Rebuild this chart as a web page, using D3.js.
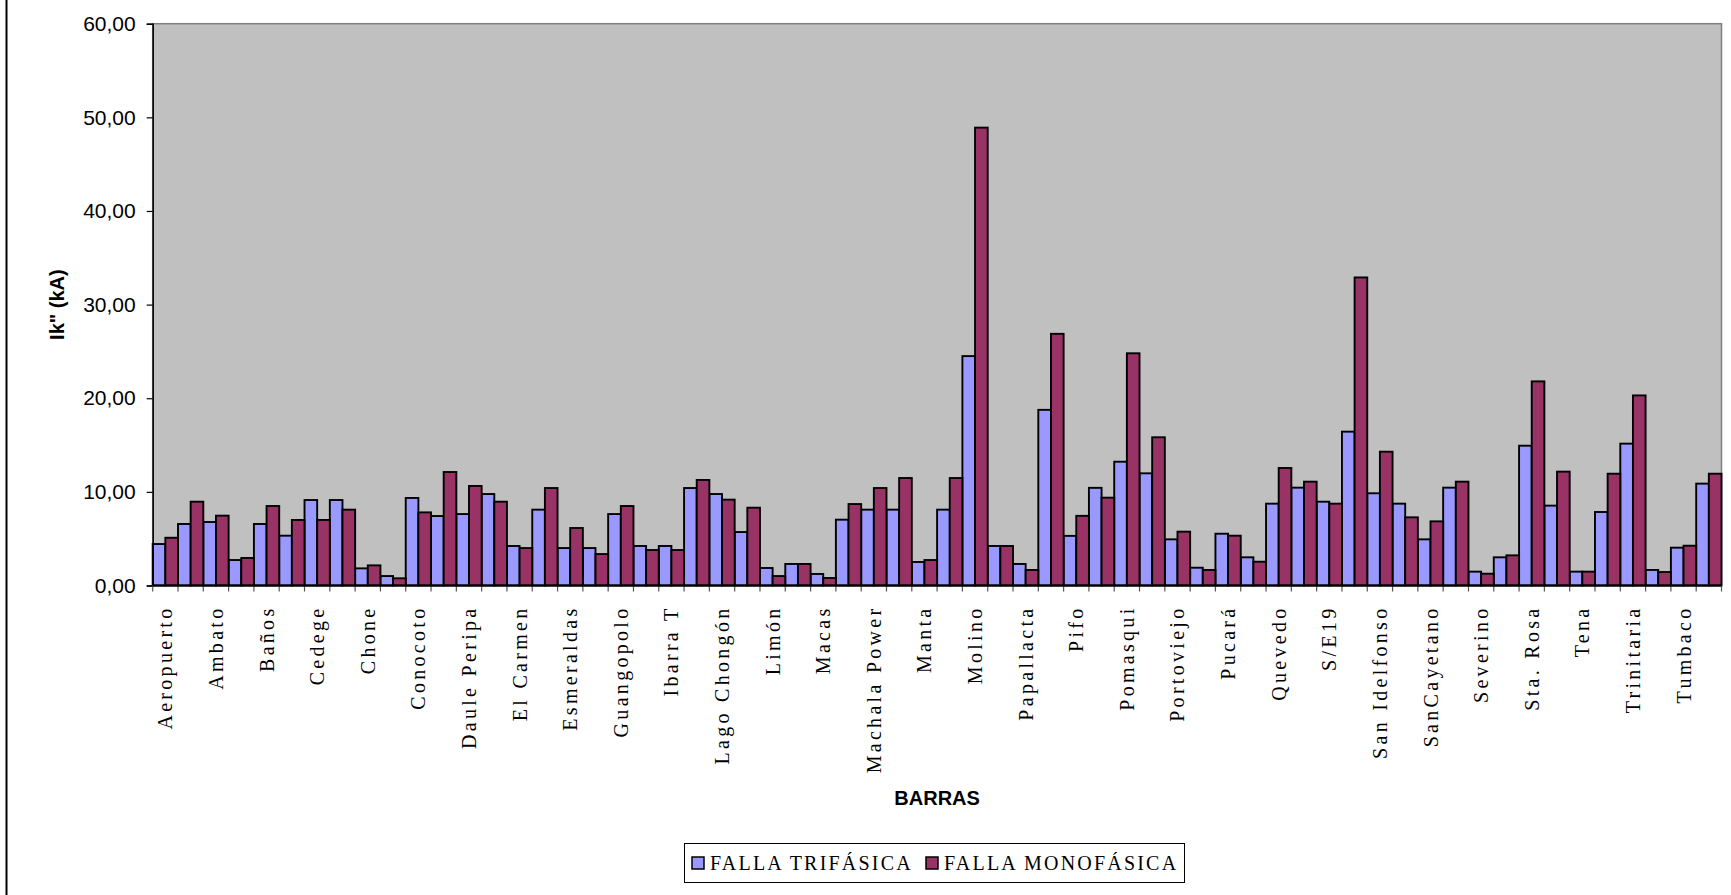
<!DOCTYPE html>
<html>
<head>
<meta charset="utf-8">
<script src="https://cdn.jsdelivr.net/npm/d3@7/dist/d3.min.js"></script>
<style>
  html, body { margin: 0; padding: 0; background: #ffffff; }
  svg { display: block; }
  .ytick text { font-family: Arial, "Liberation Sans", sans-serif; font-size: 21px; fill: #000; }
  .xlab { font-family: "Times New Roman", "Liberation Serif", serif; font-size: 20px; letter-spacing: 3.3px; fill: #000; }
  .title { font-family: Arial, "Liberation Sans", sans-serif; font-size: 20px; font-weight: bold; fill: #000; }
  .leg { font-family: "Times New Roman", "Liberation Serif", serif; font-size: 20px; letter-spacing: 2.2px; fill: #000; }
</style>
</head>
<body>
<svg id="chart" width="1731" height="895"></svg>
<script>
// Subestaciones (barras): labels printed under every second bar pair
const tickLabels = [
  "Aeropuerto", "Ambato", "Baños", "Cedege", "Chone", "Conocoto", "Daule Peripa",
  "El Carmen", "Esmeraldas", "Guangopolo", "Ibarra T", "Lago Chongón", "Limón",
  "Macas", "Machala Power", "Manta", "Molino", "Papallacta", "Pifo", "Pomasqui",
  "Portoviejo", "Pucará", "Quevedo", "S/E19", "San Idelfonso", "SanCayetano",
  "Severino", "Sta. Rosa", "Tena", "Trinitaria", "Tumbaco"
];

// Ik" (kA) per barra, three-phase fault
const fallaTrifasica = [
  4.43, 6.57, 6.78, 2.72, 6.57, 5.32, 9.13, 9.13, 1.83, 1.01, 9.35, 7.42,
  7.63, 9.77, 4.22, 8.10, 4.00, 4.00, 7.63, 4.22, 4.22, 10.41, 9.77, 5.71,
  1.87, 2.30, 1.23, 7.03, 8.10, 8.10, 2.51, 8.10, 24.50, 4.22, 2.30, 18.76,
  5.30, 10.43, 13.22, 11.98, 4.93, 1.90, 5.53, 3.01, 8.74, 10.45, 8.95, 16.43,
  9.85, 8.74, 4.93, 10.45, 1.48, 3.01, 14.93, 8.53, 1.48, 7.85, 15.15, 1.66, 4.04, 10.88
];

// Ik" (kA) per barra, single-phase fault
const fallaMonofasica = [
  5.10, 8.95, 7.46, 2.94, 8.49, 7.00, 7.00, 8.10, 2.15, 0.77, 7.81, 12.12,
  10.63, 8.95, 4.00, 10.41, 6.14, 3.36, 8.49, 3.79, 3.79, 11.27, 9.17, 8.31,
  1.01, 2.30, 0.80, 8.70, 10.41, 11.48, 2.72, 11.48, 48.90, 4.22, 1.66, 26.88,
  7.44, 9.38, 24.80, 15.83, 5.75, 1.66, 5.32, 2.54, 12.55, 11.09, 8.74, 32.90,
  14.29, 7.28, 6.85, 11.09, 1.26, 3.22, 21.80, 12.16, 1.48, 11.94, 20.30, 1.44, 4.25, 11.94
];

const yTicks = [0, 10, 20, 30, 40, 50, 60];
const seriesNames = ["FALLA TRIFÁSICA", "FALLA MONOFÁSICA"];
const seriesColors = ["#9999FF", "#993366"];

const svg = d3.select("#chart");

const plot = { left: 152.7, right: 1721.5, top: 23.7, bottom: 585.5 };

const idx = d3.range(fallaTrifasica.length);
const x = d3.scaleBand().domain(idx).range([plot.left, plot.right]).padding(0);
const xs = d3.scaleBand().domain([0, 1]).range([0, x.bandwidth()]).padding(0);
const y = d3.scaleLinear().domain([0, 60]).range([plot.bottom, plot.top]);

const fmt = d3.formatLocale({ decimal: ",", thousands: ".", grouping: [3], currency: ["", ""] }).format(".2f");

// outer chart frame (left edge)
svg.append("line")
  .attr("x1", 6.5).attr("x2", 6.5).attr("y1", 0).attr("y2", 895)
  .attr("stroke", "#000").attr("stroke-width", 2);

// plot area
svg.append("rect")
  .attr("x", plot.left).attr("y", plot.top)
  .attr("width", plot.right - plot.left).attr("height", plot.bottom - plot.top)
  .attr("fill", "#C0C0C0").attr("stroke", "#808080").attr("stroke-width", 1.5);

// bars
const series = [fallaTrifasica, fallaMonofasica];
series.forEach((vals, s) => {
  svg.append("g")
    .selectAll("rect")
    .data(vals)
    .join("rect")
    .attr("x", (d, i) => x(i) + xs(s))
    .attr("y", d => y(d))
    .attr("width", xs.bandwidth())
    .attr("height", d => y(0) - y(d))
    .attr("fill", seriesColors[s])
    .attr("stroke", "#000")
    .attr("stroke-width", 1.9);
});

// y axis
const yAxis = svg.append("g")
  .attr("class", "ytick")
  .attr("transform", `translate(${plot.left},0)`)
  .call(d3.axisLeft(y).tickValues(yTicks).tickFormat(fmt).tickSize(6).tickPadding(11));
yAxis.select(".domain").attr("stroke", "#000").attr("stroke-width", 1.5);
yAxis.selectAll(".tick line").attr("stroke", "#000").attr("stroke-width", 1.2);

// x axis: tick marks at category boundaries
const bounds = idx.map(i => x(i)).concat([plot.right]);
svg.append("g")
  .selectAll("line")
  .data(bounds)
  .join("line")
  .attr("x1", d => d).attr("x2", d => d)
  .attr("y1", plot.bottom).attr("y2", plot.bottom + 6)
  .attr("stroke", "#555").attr("stroke-width", 1.2);
svg.append("line")
  .attr("x1", plot.left).attr("x2", plot.right)
  .attr("y1", plot.bottom).attr("y2", plot.bottom)
  .attr("stroke", "#000").attr("stroke-width", 2);

// category labels, every second category
svg.append("g")
  .selectAll("text")
  .data(tickLabels)
  .join("text")
  .attr("class", "xlab")
  .attr("transform", (d, k) => `translate(${x(k * 2) + x.bandwidth() / 2},${plot.bottom + 20}) rotate(-90)`)
  .attr("text-anchor", "end")
  .attr("dy", "0.35em")
  .text(d => d);

// axis titles
svg.append("text")
  .attr("class", "title")
  .attr("transform", `translate(57,${(plot.top + plot.bottom) / 2}) rotate(-90)`)
  .attr("text-anchor", "middle")
  .attr("dy", "0.35em")
  .text("Ik\" (kA)");

svg.append("text")
  .attr("class", "title")
  .attr("x", (plot.left + plot.right) / 2)
  .attr("y", 805)
  .attr("text-anchor", "middle")
  .text("BARRAS");

// legend
const leg = svg.append("g");
leg.append("rect")
  .attr("x", 684.5).attr("y", 843.5).attr("width", 500).attr("height", 39)
  .attr("fill", "#fff").attr("stroke", "#000").attr("stroke-width", 1);
const legX = [692, 926];
seriesNames.forEach((name, s) => {
  leg.append("rect")
    .attr("x", legX[s]).attr("y", 857).attr("width", 12).attr("height", 12)
    .attr("fill", seriesColors[s]).attr("stroke", "#000").attr("stroke-width", 1.5);
  leg.append("text")
    .attr("class", "leg")
    .attr("x", legX[s] + 18).attr("y", 870)
    .text(name);
});
</script>
</body>
</html>
